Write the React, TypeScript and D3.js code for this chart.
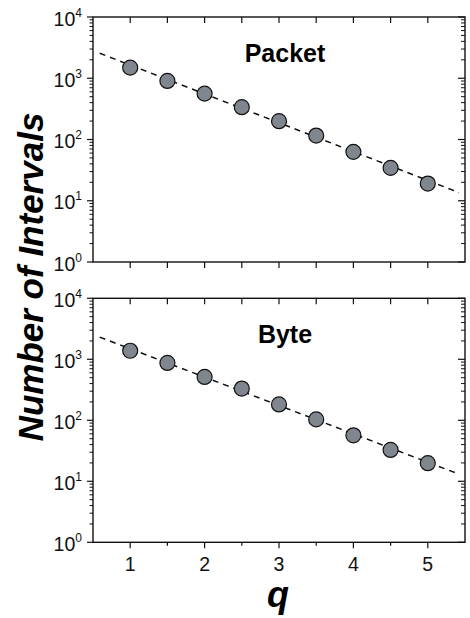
import React from "react";
import * as d3 from "d3";

const qValues = [1, 1.5, 2, 2.5, 3, 3.5, 4, 4.5, 5];
const packetCounts = [1490, 904, 561, 337, 199, 116, 62.8, 34.4, 19.1];
const byteCounts = [1380, 871, 514, 331, 182, 103.5, 56.7, 32.7, 19.8];
const packetFit = [
  { q: 0.59, n: 2560 },
  { q: 5.42, n: 13.6 },
];
const byteFit = [
  { q: 0.59, n: 2310 },
  { q: 5.42, n: 13.1 },
];
const xTicks = [1, 1.5, 2, 2.5, 3, 3.5, 4, 4.5, 5];
const xLabelTicks = [1, 2, 3, 4, 5];
const yExponents = [0, 1, 2, 3, 4];

const W = 470;
const H = 618;
const LEFT = 93;
const RIGHT = 465;
const FONT = "'Liberation Sans', Arial, Helvetica, sans-serif";

const x = d3.scaleLinear().domain([0.5, 5.5]).range([LEFT, RIGHT]);

type PanelProps = {
  top: number;
  bottom: number;
  counts: number[];
  fit: { q: number; n: number }[];
  title: string;
  titleY: number;
  showXLabels: boolean;
};

function Panel({ top, bottom, counts, fit, title, titleY, showXLabels }: PanelProps) {
  const y = d3.scaleLog().domain([1, 1e4]).range([bottom, top]);
  const minor: number[] = [];
  for (let e = 0; e < 4; e++) {
    for (let m = 2; m <= 9; m++) minor.push(m * Math.pow(10, e));
  }
  const line = d3
    .line<{ q: number; n: number }>()
    .x((d) => x(d.q))
    .y((d) => y(d.n));
  const stroke = "#111";
  return (
    <g>
      <rect
        x={LEFT}
        y={top}
        width={RIGHT - LEFT}
        height={bottom - top}
        fill="none"
        stroke={stroke}
        strokeWidth={1.4}
      />
      {yExponents.map((e) => (
        <g key={"ym" + e}>
          <line x1={LEFT - 6} x2={LEFT} y1={y(Math.pow(10, e))} y2={y(Math.pow(10, e))} stroke={stroke} strokeWidth={1.2} />
          <line x1={RIGHT - 7} x2={RIGHT} y1={y(Math.pow(10, e))} y2={y(Math.pow(10, e))} stroke={stroke} strokeWidth={1.2} />
          <text
            x={82}
            y={y(Math.pow(10, e)) + 8.5}
            textAnchor="end"
            fontFamily={FONT}
            fontSize={19.5}
            fill="#111"
          >
            10
            <tspan fontSize={12} dy={-9}>
              {e}
            </tspan>
          </text>
        </g>
      ))}
      {minor.map((v) => (
        <g key={"yn" + v}>
          <line x1={LEFT - 3.5} x2={LEFT} y1={y(v)} y2={y(v)} stroke={stroke} strokeWidth={1} />
          <line x1={RIGHT - 4} x2={RIGHT} y1={y(v)} y2={y(v)} stroke={stroke} strokeWidth={1} />
        </g>
      ))}
      {xTicks.map((t) => {
        const isMajor = Number.isInteger(t);
        const len = showXLabels ? (isMajor ? 6 : 3.5) : 6;
        return (
          <g key={"xt" + t}>
            <line x1={x(t)} x2={x(t)} y1={top} y2={top + 6} stroke={stroke} strokeWidth={1.2} />
            <line x1={x(t)} x2={x(t)} y1={bottom} y2={bottom + len} stroke={stroke} strokeWidth={1.2} />
          </g>
        );
      })}
      {showXLabels &&
        xLabelTicks.map((t) => (
          <text
            key={"xl" + t}
            x={x(t)}
            y={bottom + 29}
            textAnchor="middle"
            fontFamily={FONT}
            fontSize={19.5}
            fill="#111"
          >
            {t}
          </text>
        ))}
      <path d={line(fit) || ""} fill="none" stroke="#111" strokeWidth={1.5} strokeDasharray="6,5" />
      {qValues.map((q, i) => (
        <circle key={"c" + q} cx={x(q)} cy={y(counts[i])} r={7.5} fill="#80868d" stroke="#111" strokeWidth={1.2} />
      ))}
      <text
        x={285}
        y={titleY}
        textAnchor="middle"
        fontFamily={FONT}
        fontWeight="bold"
        fontSize={25}
        fill="#000"
      >
        {title}
      </text>
    </g>
  );
}

export default function App() {
  return (
    <svg
      width={W}
      height={H}
      viewBox={`0 0 ${W} ${H}`}
      style={{ position: "absolute", left: 0, top: 0, background: "#fff" }}
    >
      <rect x={0} y={0} width={W} height={H} fill="#fff" />
      <Panel top={17} bottom={262} counts={packetCounts} fit={packetFit} title="Packet" titleY={62} showXLabels={false} />
      <Panel top={298.3} bottom={542.3} counts={byteCounts} fit={byteFit} title="Byte" titleY={343} showXLabels={true} />
      <text
        transform={`translate(43, 277) rotate(-90)`}
        textAnchor="middle"
        fontFamily={FONT}
        fontWeight="bold"
        fontStyle="italic"
        fontSize={35}
        fill="#000"
      >
        Number of Intervals
      </text>
      <text
        x={278}
        y={607}
        textAnchor="middle"
        fontFamily={FONT}
        fontWeight="bold"
        fontStyle="italic"
        fontSize={36}
        fill="#000"
      >
        q
      </text>
    </svg>
  );
}
